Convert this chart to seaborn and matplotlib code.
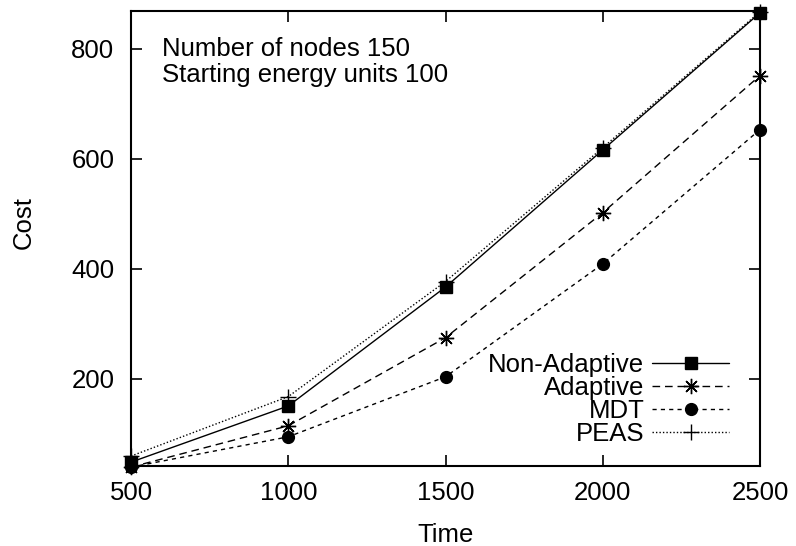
import matplotlib
matplotlib.use("Agg")
import matplotlib.pyplot as plt
import seaborn as sns
import pandas as pd

# values
time = [500, 1000, 1500, 2000, 2500]
non_adaptive = [49, 151, 367, 616, 865]
adaptive = [40, 115, 275, 502, 751]
mdt = [40, 95, 204, 409, 653]
peas = [60, 168, 377, 620, 867]

series_names = ["Non-Adaptive", "Adaptive", "MDT", "PEAS"]
x_ticks = [500, 1000, 1500, 2000, 2500]
y_ticks = [200, 400, 600, 800]

sns.set_style("ticks")
plt.rcParams["font.family"] = ["Liberation Sans", "DejaVu Sans"]
plt.rcParams["text.color"] = "black"
plt.rcParams["axes.labelcolor"] = "black"
FS = 18.5

df = pd.DataFrame({"Time": time, "Non-Adaptive": non_adaptive,
                   "Adaptive": adaptive, "MDT": mdt, "PEAS": peas})

fig = plt.figure(figsize=(7.96, 5.46), dpi=100)
ax = fig.add_axes([131 / 796, 1 - 466 / 546, 629 / 796, 455.4 / 546])

styles = {
    "Non-Adaptive": dict(marker="s", markersize=8, dashes=None),
    "Adaptive": dict(marker=(8, 2, 0), markersize=11, dashes=(5.5, 3.5)),
    "MDT": dict(marker="o", markersize=8.5, dashes=(3, 3)),
    "PEAS": dict(marker="+", markersize=12, dashes=(1, 1.5)),
}

for name in series_names:
    st = styles[name]
    sns.lineplot(data=df, x="Time", y=name, ax=ax, color="black",
                 linewidth=1.0, marker=st["marker"],
                 markersize=st["markersize"], markeredgewidth=1.0,
                 markerfacecolor="black", markeredgecolor="black",
                 label=name, clip_on=False, zorder=3)
    if st["dashes"] is not None:
        ax.lines[-1].set_dashes(st["dashes"])

ax.set_xlim(500, 2500)
ax.set_ylim(42, 869)
ax.set_xticks(x_ticks)
ax.set_yticks(y_ticks)
ax.tick_params(direction="in", length=8, width=1.2, top=True, right=True,
               labelsize=FS, colors="black")
ax.tick_params(axis="x", pad=11)
ax.tick_params(axis="y", pad=12)
for sp in ax.spines.values():
    sp.set_linewidth(1.5)
    sp.set_color("black")

ax.set_xlabel("Time", fontsize=FS)
ax.set_ylabel("Cost", fontsize=FS)
ax.xaxis.set_label_coords(0.5, -0.126)
ax.yaxis.set_label_coords(-0.151, 0.534)

ax.text(0.05, 0.9156, "Number of nodes 150", transform=ax.transAxes,
        fontsize=FS, va="center", ha="left")
ax.text(0.05, 0.8586, "Starting energy units 100", transform=ax.transAxes,
        fontsize=FS, va="center", ha="left")

leg = ax.legend(loc="lower right", bbox_to_anchor=(0.951, 0.045),
                frameon=False, markerfirst=False, fontsize=FS,
                handlelength=3.0, handletextpad=0.3, labelspacing=-0.05,
                borderpad=0, borderaxespad=0)
for t in leg.get_texts():
    t.set_ha("right")
    t.set_color("black")
leg._legend_box.align = "right"

fig.savefig("out.png", dpi=100)
